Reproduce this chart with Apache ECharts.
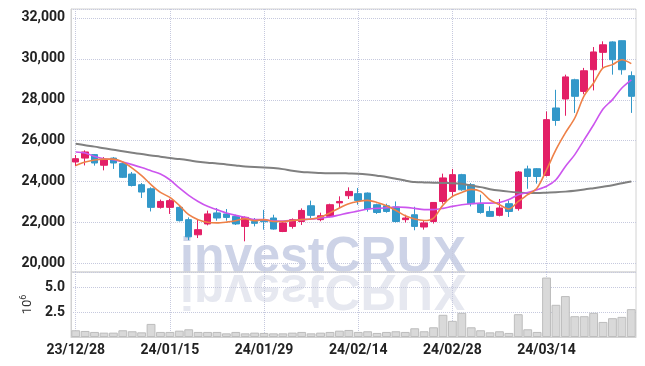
<!DOCTYPE html>
<html>
<head>
<meta charset="utf-8">
<script src="https://cdn.jsdelivr.net/npm/echarts@6/dist/echarts.min.js"></script>
<style>
html, body { margin: 0; padding: 0; background: #fff; }
#main { width: 645px; height: 366px; }
</style>
</head>
<body>
<div id="main"></div>
<script>
// trading days shown on the chart
const dates = ['23/12/28','24/01/02','24/01/03','24/01/04','24/01/05','24/01/08','24/01/09','24/01/10','24/01/11','24/01/12',
  '24/01/15','24/01/16','24/01/17','24/01/18','24/01/19','24/01/22','24/01/23','24/01/24','24/01/25','24/01/26',
  '24/01/29','24/01/30','24/01/31','24/02/01','24/02/02','24/02/05','24/02/06','24/02/07','24/02/08','24/02/13',
  '24/02/14','24/02/15','24/02/16','24/02/19','24/02/20','24/02/21','24/02/22','24/02/23','24/02/26','24/02/27',
  '24/02/28','24/02/29','24/03/04','24/03/05','24/03/06','24/03/07','24/03/08','24/03/11','24/03/12','24/03/13',
  '24/03/14','24/03/15','24/03/18','24/03/19','24/03/20','24/03/21','24/03/22','24/03/25','24/03/26','24/03/27'];

const opens = [24960,25150,25320,24800,25150,24880,24370,23850,23650,22740,
  22740,22740,22140,21400,21930,22470,22420,22300,21810,22050,
  22100,22220,21560,21810,22050,22820,22140,22300,22960,23310,
  23410,23440,22870,22820,22760,22140,22380,21780,22050,23030,
  23520,24340,23850,22900,22540,22350,22920,22680,24620,24630,
  24300,27600,28040,28980,28410,29470,30320,30830,30890,29180];
const closes = [25120,25450,24910,25070,24910,24210,23810,23490,22740,23030,
  23070,22090,21300,21650,22420,22220,22250,21930,22250,21960,
  22040,21680,21980,22140,22590,22350,22330,22870,23030,23520,
  23080,22660,22490,22540,22050,22220,21810,21980,22980,24180,
  24340,23600,22920,22490,22300,22710,22540,24470,24250,24250,
  27030,26990,29120,28170,29420,30340,30690,29960,29470,28170];
const lows = [24750,24790,24780,24550,24620,24180,23760,23200,22540,22680,
  22420,22050,21140,21240,21860,22090,22090,21880,21080,21810,
  21650,21650,21530,21700,21880,22220,22060,22250,22710,23150,
  22870,22530,22420,22480,22000,22000,21620,21650,21950,22920,
  23280,23550,22790,22430,22270,22300,22270,22580,23650,23900,
  24250,26730,27220,27360,28270,28460,29560,29230,29230,27360];
const highs = [25300,25530,25350,25200,25200,24990,24470,23930,23720,23120,
  23160,22840,22250,22140,22580,22710,22660,22380,22300,22220,
  22620,22380,22020,22200,22690,23070,22480,22920,23280,23720,
  23690,23470,22920,22920,23030,22380,22770,22100,23000,24390,
  24620,24380,23930,23360,22790,23150,23080,24520,24780,24660,
  27430,28490,29230,29030,29560,30580,30860,30860,30900,29390];

// moving averages as drawn (orange, purple, grey)
const maShort = [24790,24960,25060,25100,25100,24960,24660,24290,23850,23470,
  23230,22840,22380,22140,22010,21980,22020,22090,22190,22090,
  22140,22050,22050,22100,22140,22170,22270,22470,22710,22920,
  23030,23080,22980,22820,22590,22330,22170,22100,22220,22850,
  23280,23470,23620,23520,23100,22870,22660,23030,23360,23690,
  24580,25560,26380,27110,28200,28820,29560,29720,29960,29770];
const maMid = [25450,25400,25230,25120,25070,24960,24830,24690,24530,24370,
  24090,23690,23330,23030,22790,22630,22470,22350,22250,22140,
  22140,22070,22070,22100,22140,22170,22220,22270,22370,22470,
  22560,22660,22690,22720,22760,22740,22690,22630,22630,22690,
  22790,22870,22920,22950,22950,22980,23120,23360,23470,23600,
  23770,24090,24740,25320,26050,26780,27550,28010,28580,28980];
const maLong = [25850,25780,25710,25630,25560,25480,25410,25350,25280,25220,
  25150,25100,25040,24970,24920,24890,24840,24790,24740,24710,
  24690,24660,24610,24530,24470,24450,24420,24410,24410,24400,
  24390,24350,24290,24230,24140,24050,23980,23960,23950,23930,
  23920,23890,23810,23730,23630,23560,23510,23470,23440,23440,
  23460,23480,23510,23550,23610,23680,23750,23820,23920,24010];

// volume, millions of shares
const volumes = [0.68,0.61,0.51,0.44,0.44,0.68,0.58,0.47,1.32,0.51,
  0.51,0.64,0.78,0.51,0.51,0.51,0.37,0.51,0.37,0.44,
  0.41,0.37,0.37,0.44,0.51,0.37,0.44,0.51,0.64,0.71,
  0.51,0.58,0.41,0.51,0.58,0.51,0.88,0.58,0.98,2.24,
  1.63,2.44,0.98,0.68,0.47,0.58,0.41,2.30,0.78,0.51,
  6.00,3.25,4.13,2.10,2.10,2.44,1.52,1.90,2.03,2.81];

const candleData = opens.map((o, i) => [o, closes[i], lows[i], highs[i]]);

const labelFont = 'Roboto, sans-serif';
const gridLine = { type: 'dotted', color: '#c6c9de', width: 1 };
const wmFont = 'bold 50px "Liberation Sans", Arial, sans-serif';

const chart = echarts.init(document.getElementById('main'));
const options = {
  animation: false,
  graphic: [
    {
      type: 'text', x: 180, y: 283, z: -1,
      style: { text: 'investCRUX', font: wmFont, fill: '#cdd3e7', verticalAlign: 'bottom' }
    },
    {
      type: 'text', x: 180, y: 264, scaleY: -1, z: -1,
      style: { text: 'investCRUX', font: wmFont, fill: '#e6e8f0', verticalAlign: 'bottom' }
    }
  ],
  grid: [
    { left: 71, right: 9, top: 9, height: 263, show: true, borderColor: '#d2d2d2', borderWidth: 1 },
    { left: 71, right: 9, top: 272, height: 65, show: true, borderColor: '#d2d2d2', borderWidth: 1 }
  ],
  xAxis: [
    {
      type: 'category', gridIndex: 0, data: dates,
      axisLine: { show: false }, axisTick: { show: false }, axisLabel: { show: false },
      splitLine: { show: true, interval: 9, alignWithLabel: true, lineStyle: gridLine }
    },
    {
      type: 'category', gridIndex: 1, data: dates,
      axisLine: { show: true, lineStyle: { color: '#d2d2d2' } },
      axisTick: { show: false },
      axisLabel: { interval: 9, margin: 6, color: '#222', fontSize: 14, fontWeight: 700, fontFamily: labelFont },
      splitLine: { show: true, interval: 9, alignWithLabel: true, lineStyle: gridLine }
    }
  ],
  yAxis: [
    {
      type: 'value', gridIndex: 0, min: 19580, max: 32440, splitNumber: 6,
      axisLine: { show: true, lineStyle: { color: '#d2d2d2' } },
      axisTick: { show: false },
      axisLabel: {
        showMinLabel: false, showMaxLabel: false, margin: 6,
        color: '#222', fontSize: 14, fontWeight: 700, fontFamily: labelFont,
        formatter: v => String(v).replace(/\B(?=(\d{3})+(?!\d))/g, ',')
      },
      splitLine: { lineStyle: gridLine }
    },
    {
      type: 'value', gridIndex: 1, min: 0, max: 6.56, interval: 2.5,
      axisLine: { show: true, lineStyle: { color: '#d2d2d2' } },
      axisTick: { show: false },
      axisLabel: {
        showMinLabel: false, showMaxLabel: false, margin: 6,
        color: '#222', fontSize: 14, fontWeight: 700, fontFamily: labelFont,
        formatter: v => v.toFixed(1)
      },
      splitLine: { lineStyle: gridLine },
      name: '{n|10}{s|6}', nameLocation: 'middle', nameGap: 31, nameRotate: 90,
      nameTextStyle: {
        rich: {
          n: { fontSize: 13, color: '#333', fontFamily: labelFont },
          s: { fontSize: 9, color: '#333', fontFamily: labelFont, verticalAlign: 'bottom', padding: [0, 0, 7, 0] }
        }
      }
    }
  ],
  series: [
    {
      type: 'candlestick', xAxisIndex: 0, yAxisIndex: 0, data: candleData,
      barWidth: 7,
      itemStyle: {
        color: '#e31f66', color0: '#3398c9',
        borderColor: '#e31f66', borderColor0: '#3398c9', borderWidth: 1
      }
    },
    {
      type: 'line', xAxisIndex: 0, yAxisIndex: 0, data: maLong, smooth: 0.3,
      showSymbol: false, z: 3, lineStyle: { color: '#808080', width: 2 }
    },
    {
      type: 'line', xAxisIndex: 0, yAxisIndex: 0, data: maMid, smooth: 0.3,
      showSymbol: false, z: 3, lineStyle: { color: '#cc55ee', width: 1.6 }
    },
    {
      type: 'line', xAxisIndex: 0, yAxisIndex: 0, data: maShort, smooth: 0.3,
      showSymbol: false, z: 3, lineStyle: { color: '#ee8148', width: 1.6 }
    },
    {
      type: 'bar', xAxisIndex: 1, yAxisIndex: 1, data: volumes,
      barCategoryGap: '6%',
      itemStyle: { color: '#d9d9d9', borderColor: '#bdbdbd', borderWidth: 1 }
    }
  ]
};
chart.setOption(options);
</script>
</body>
</html>
